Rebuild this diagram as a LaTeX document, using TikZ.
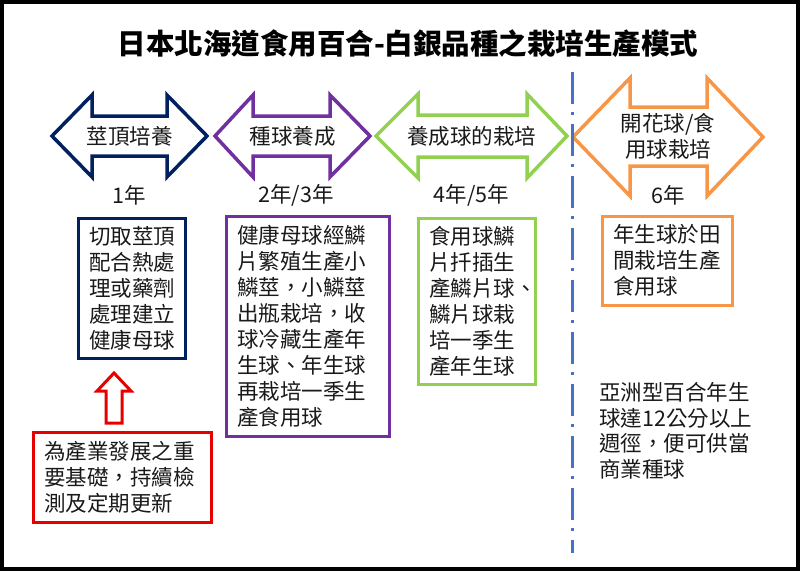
\documentclass[tikz,border=0pt]{standalone}
\usepackage{fontspec}
\setmainfont{Noto Sans CJK TC}
\definecolor{navy}{RGB}{0,32,96}
\definecolor{lilac}{RGB}{112,48,160}
\definecolor{leaf}{RGB}{146,208,80}
\definecolor{amber}{RGB}{247,150,70}
\definecolor{alarm}{RGB}{230,0,0}
\definecolor{steel}{RGB}{68,114,196}

\begin{document}
\begin{tikzpicture}[x=1pt,y=-1pt,
    stage/.style={draw=#1,line width=3.5pt,fill=white},
    note/.style={draw=#1,line width=3pt,inner xsep=11pt,align=left,text=black!90,
      font=\fontsize{21.5}{26}\selectfont},
    label/.style={text=black!90,font=\fontsize{21.5}{26}\selectfont,inner sep=0pt},
    year/.style={text=black!90,font=\fontsize{21.5}{26}\selectfont,inner sep=0pt}]

\useasboundingbox (0,0) rectangle (800,571);
\draw[line width=4pt] (2,2) rectangle (798,569);

\node[font=\fontsize{28.5}{32}\bfseries\selectfont,inner sep=0pt] (title) at (408,44)
  {日本北海道食用百合-白銀品種之栽培生產模式};

% stages
\draw[stage=navy] (52,136) -- (92,95) -- (92,116) -- (167,116) -- (167,95) -- (207,136)
  -- (167,177) -- (167,156) -- (92,156) -- (92,177) -- cycle;
\draw[stage=lilac] (215,136) -- (253,95) -- (253,116) -- (330,116) -- (330,95) -- (370,136)
  -- (330,177) -- (330,156) -- (253,156) -- (253,177) -- cycle;
\draw[stage=leaf] (376,136) -- (418,94) -- (418,115) -- (527,115) -- (527,94) -- (567,136)
  -- (527,178) -- (527,157) -- (418,157) -- (418,178) -- cycle;
\draw[stage=amber] (573,137) -- (630,78) -- (630,107) -- (707,107) -- (707,78) -- (763,137)
  -- (707,196) -- (707,166) -- (630,166) -- (630,196) -- cycle;

\node[label] (a1) at (129.5,136) {莖頂培養};
\node[label] (a2) at (292.5,136) {種球養成};
\node[label] (a3) at (471.5,136) {養成球的栽培};
\node[label,align=center] (a4) at (668,136) {開花球/食\\用球栽培};

\node[year] (y1) at (129.5,195) {1年};
\node[year] (y2) at (296,195) {2年/3年};
\node[year] (y3) at (471.5,195) {4年/5年};
\node[year] (y4) at (668,195) {6年};

% notes
\node[note=navy,text width=85pt,minimum height=140pt] (b1) at (131.5,288)
  {切取莖頂\\配合熱處\\理或藥劑\\處理建立\\健康母球};
\node[note=lilac,text width=141pt,minimum height=220pt] (b2) at (307.5,326)
  {健康母球經鱗\\片繁殖生產小\\鱗莖，小鱗莖\\出瓶栽培，收\\球冷藏生產年\\生球、年生球\\再栽培一季生\\產食用球};
\node[note=leaf,text width=95pt,minimum height=166pt] (b3) at (476.5,301)
  {食用球鱗\\片扦插生\\產鱗片球、\\鱗片球栽\\培一季生\\產年生球};
\node[note=amber,text width=108pt,minimum height=89pt] (b4) at (667,260.5)
  {年生球於田\\間栽培生產\\食用球};
\node[note=alarm,text width=156pt,minimum height=90pt] (base) at (122,477)
  {為產業發展之重\\要基礎，持續檢\\測及定期更新};

\draw[draw=alarm,line width=3pt] (114,373) -- (131,391) -- (122,391) -- (122,423)
  -- (106,423) -- (106,391) -- (97,391) -- cycle;

\draw[steel,line width=3pt,dash pattern=on 32pt off 8pt on 3pt off 9pt] (572,72) -- (572,553);

\node[label,anchor=west,align=left,font=\fontsize{21.5}{25.5}\selectfont] (rule) at (599,431)
  {亞洲型百合年生\\球達12公分以上\\週徑，便可供當\\商業種球};
\end{tikzpicture}
\end{document}
